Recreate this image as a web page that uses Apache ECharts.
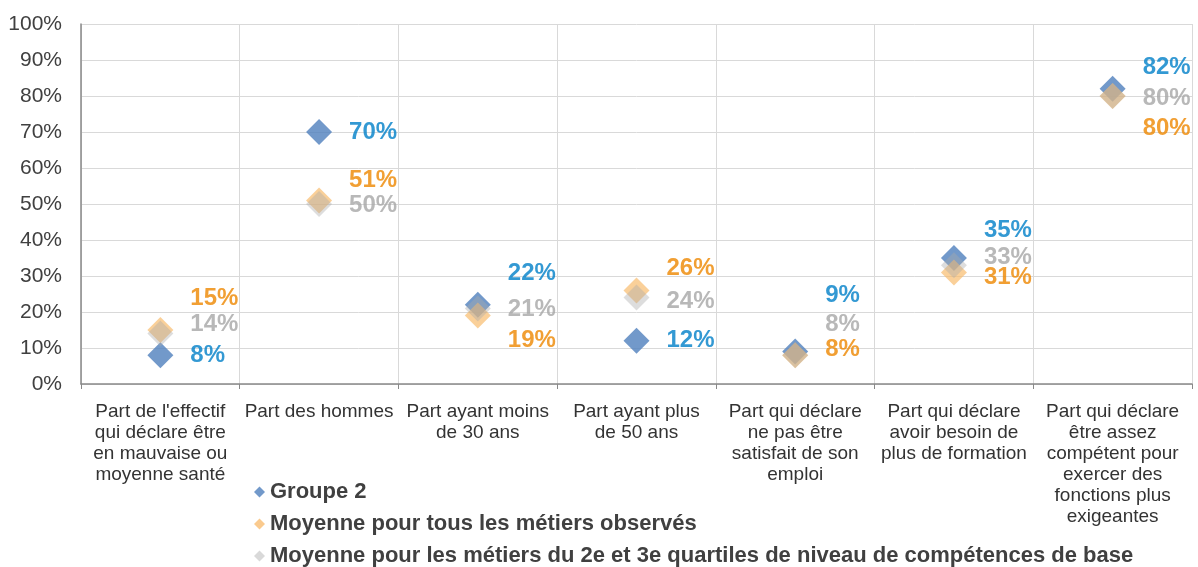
<!DOCTYPE html>
<html>
<head>
<meta charset="utf-8">
<script src="https://cdn.jsdelivr.net/npm/echarts@6/dist/echarts.min.js"></script>
<style>
  html, body { margin: 0; padding: 0; background: #fff; }
  #chart { width: 1198px; height: 567px; }
</style>
</head>
<body>
<div id="chart"></div>
<script>
var categories = [
  "Part de l'effectif\nqui déclare être\nen mauvaise ou\nmoyenne santé",
  "Part des hommes",
  "Part ayant moins\nde 30 ans",
  "Part ayant plus\nde 50 ans",
  "Part qui déclare\nne pas être\nsatisfait de son\nemploi",
  "Part qui déclare\navoir besoin de\nplus de formation",
  "Part qui déclare\nêtre assez\ncompétent pour\nexercer des\nfonctions plus\nexigeantes"
];
var groupe2 = [8, 70, 22, 12, 9, 35, 82];
var moyenneTous = [15, 51, 19, 26, 8, 31, 80];
var moyenneQuartiles = [14, 50, 21, 24, 8, 33, 80];

// décalage vertical des étiquettes (px) pour éviter les chevauchements
var shiftBleu = [0, 0, -31, 0, -56, -28, -21];
var shiftOrange = [-32, -20, 25, -22, -6, 5, 32];
var shiftGris = [-9, 1, 1, 4, -31, -8, 2];

function points(values, shifts) {
  return values.map(function (v, i) {
    return { value: v, label: { offset: [0, shifts[i]] } };
  });
}

var FONT = "'Liberation Sans', Arial, sans-serif";
var chart = echarts.init(document.getElementById('chart'));

var labelBase = {
  show: true,
  position: 'right',
  distance: 17,
  formatter: '{c}%',
  fontFamily: FONT,
  fontSize: 24,
  fontWeight: 'bold'
};

var option = {
  animation: false,
  textStyle: { fontFamily: FONT },
  grid: { left: 81, right: 6, top: 24, bottom: 183 },
  legend: {
    orient: 'vertical',
    left: 254,
    top: 481,
    padding: 0,
    itemGap: 10,
    itemWidth: 11,
    itemHeight: 11,
    textStyle: { fontFamily: FONT, fontSize: 22, fontWeight: 'bold', color: '#404040' },
    data: [
      { name: 'Groupe 2', icon: 'diamond', itemStyle: { color: '#4f7fbd' } },
      { name: 'Moyenne pour tous les métiers observés', icon: 'diamond', itemStyle: { color: '#f9bd72' } },
      { name: 'Moyenne pour les métiers du 2e et 3e quartiles de niveau de compétences de base', icon: 'diamond', itemStyle: { color: '#d0d0d0' } }
    ]
  },
  xAxis: {
    type: 'category',
    data: categories,
    boundaryGap: true,
    axisLine: { lineStyle: { color: '#898989', width: 1.5 } },
    axisTick: { show: true, length: 5, lineStyle: { color: '#898989' } },
    splitLine: { show: true, lineStyle: { color: '#d9d9d9', width: 1 } },
    axisLabel: {
      interval: 0,
      color: '#333',
      fontFamily: FONT,
      fontSize: 19,
      lineHeight: 21,
      margin: 17
    }
  },
  yAxis: {
    type: 'value',
    min: 0,
    max: 100,
    interval: 10,
    axisLine: { show: true, lineStyle: { color: '#898989', width: 1.5 } },
    axisTick: { show: false },
    splitLine: { lineStyle: { color: '#d9d9d9', width: 1 } },
    axisLabel: { formatter: '{value}%', color: '#404040', fontFamily: FONT, fontSize: 21, margin: 19 }
  },
  series: [
    {
      name: 'Groupe 2',
      type: 'scatter',
      symbol: 'diamond',
      symbolSize: 26,
      z: 2,
      itemStyle: { color: '#4f7fbd' },
      label: Object.assign({}, labelBase, { color: '#0080c8' }),
      data: points(groupe2, shiftBleu)
    },
    {
      name: 'Moyenne pour tous les métiers observés',
      type: 'scatter',
      symbol: 'diamond',
      symbolSize: 26,
      z: 3,
      itemStyle: { color: 'rgba(248,186,106,0.85)' },
      label: Object.assign({}, labelBase, { color: '#ee8700' }),
      data: points(moyenneTous, shiftOrange)
    },
    {
      name: 'Moyenne pour les métiers du 2e et 3e quartiles de niveau de compétences de base',
      type: 'scatter',
      symbol: 'diamond',
      symbolSize: 26,
      z: 4,
      itemStyle: { color: 'rgba(170,170,170,0.5)' },
      label: Object.assign({}, labelBase, { color: '#a6a6a6' }),
      data: points(moyenneQuartiles, shiftGris)
    }
  ]
};
chart.setOption(option);
</script>
</body>
</html>
